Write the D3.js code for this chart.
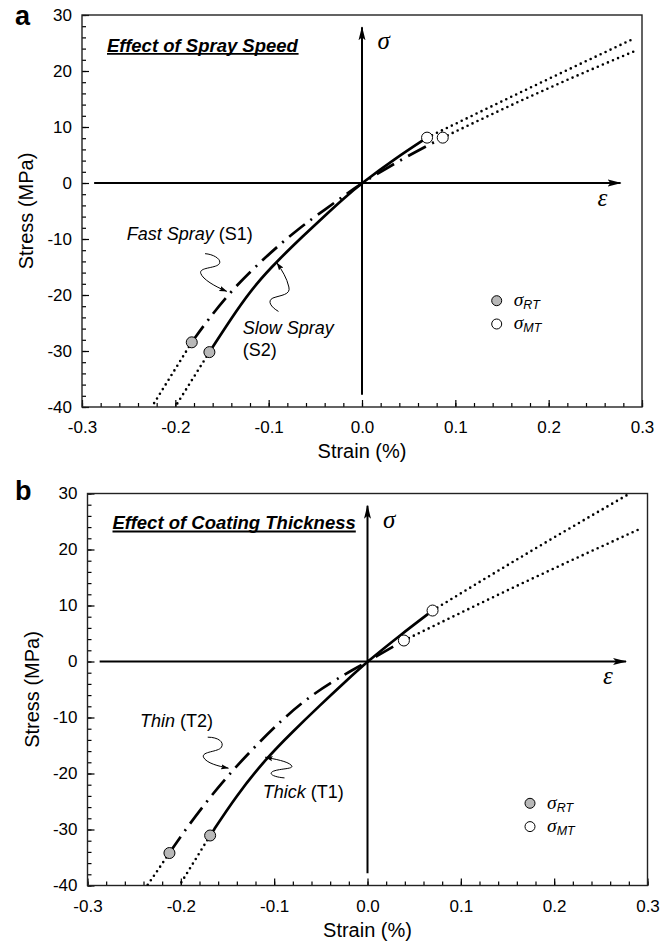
<!DOCTYPE html>
<html>
  <head>
    <meta charset="utf-8">
    <title>Stress-strain of coatings</title>
    <script src="https://d3js.org/d3.v7.min.js"></script>
    <style>
      body{
        margin: 0;
        background: #fff;
      }
      svg text{
        font-family: "Liberation Sans", Arial, Helvetica, sans-serif;
        fill: #000;
      }
      .greek{
        font-family: "Liberation Serif", "Times New Roman", serif;
        font-style: italic;
      }
    </style>
  </head>
  <body>
    <div id="container"></div>
    <script>

      // TICKS
      const strainTicks = [-0.3, -0.2, -0.1, 0, 0.1, 0.2, 0.3];
      const stressTicks = [-40, -30, -20, -10, 0, 10, 20, 30];

      // PANEL A - SLOW SPRAY (S2), SOLID
      const slowStrain = [-0.1635, -0.134, -0.1127, -0.0912, -0.0627, -0.0412, -0.0197, 0, 0.035, 0.0697];
      const slowStress = [-30.2, -22.6, -17.85, -14.0, -9.4, -6.05, -2.75, 0, 4.3, 8.1];
      const slowCompStrain = [-0.1635, -0.2003];
      const slowCompStress = [-30.2, -40];
      const slowTenStrain = [0.0697, 0.18, 0.2897];
      const slowTenStress = [8.1, 17.0, 25.66];

      // PANEL A - FAST SPRAY (S1), DASH-DOT
      const fastStrain = [-0.1824, -0.1663, -0.1378, -0.102, -0.0697, -0.0376, -0.0161, 0, 0.045, 0.0865];
      const fastStress = [-28.45, -24.7, -18.75, -13.0, -8.35, -4.48, -1.9, 0, 4.5, 8.1];
      const fastCompStrain = [-0.1824, -0.2253];
      const fastCompStress = [-28.45, -40];
      const fastTenStrain = [0.0865, 0.19, 0.2932];
      const fastTenStress = [8.1, 16.2, 23.63];

      // PANEL B - THICK (T1), SOLID
      const thickStrain = [-0.1686, -0.1407, -0.1086, -0.080, -0.0514, -0.0228, 0, 0.035, 0.0697];
      const thickStress = [-31.07, -24.0, -17.3, -12.5, -7.9, -3.45, 0, 4.7, 9.1];
      const thickCompStrain = [-0.1686, -0.2015];
      const thickCompStress = [-31.07, -40];
      const thickTenStrain = [0.0697, 0.175, 0.282];
      const thickTenStress = [9.1, 19.7, 30.1];

      // PANEL B - THIN (T2), DASH-DOT
      const thinStrain = [-0.2122, -0.1943, -0.1604, -0.1283, -0.0908, -0.0586, -0.0265, 0, 0.039];
      const thinStress = [-34.2, -29.8, -22.4, -16.5, -10.2, -5.8, -2.5, 0, 3.75];
      const thinCompStrain = [-0.2122, -0.236];
      const thinCompStress = [-34.2, -40];
      const thinTenStrain = [0.039, 0.165, 0.2935];
      const thinTenStress = [3.75, 13.9, 23.8];

      // SET DIMENSIONS
      const width = 665, height = 942;
      const plotW = 560, plotH = 392;
      const DASHDOT = "20,7,2,7";

      const svg = d3.select("#container")
        .append("svg")
        .attr("width", width)
        .attr("height", height);

      // MARKERS
      const defs = svg.append("defs");
      defs.append("marker")
        .attr("id", "axisArrow")
        .attr("markerUnits", "userSpaceOnUse")
        .attr("viewBox", "0 -4 14 8")
        .attr("refX", 13).attr("refY", 0)
        .attr("markerWidth", 14).attr("markerHeight", 8)
        .attr("orient", "auto")
        .append("path")
        .attr("d", "M0,-3.5L14,0L0,3.5L3,0Z")
        .attr("fill", "#000");
      defs.append("marker")
        .attr("id", "noteArrow")
        .attr("markerUnits", "userSpaceOnUse")
        .attr("viewBox", "0 -3 8 6")
        .attr("refX", 7.5).attr("refY", 0)
        .attr("markerWidth", 8).attr("markerHeight", 6)
        .attr("orient", "auto")
        .append("path")
        .attr("d", "M0,-2.6L8,0L0,2.6L1.5,0Z")
        .attr("fill", "#000");

      const panels = [
        {
          id: "a", title: "Effect of Spray Speed", left: 82, top: 15,
          letterDy: 10, titleDy: 36.7,
          curves: [
            { strain: slowStrain, stress: slowStress, dash: null },
            { strain: fastStrain, stress: fastStress, dash: DASHDOT }
          ],
          ext: [
            [slowCompStrain, slowCompStress], [slowTenStrain, slowTenStress],
            [fastCompStrain, fastCompStress], [fastTenStrain, fastTenStress]
          ],
          notes: [
            { lines: [["Fast Spray", " (S1)"]], dx: 44.7, dy: 225 },
            { lines: [["Slow Spray", ""], ["", "(S2)"]], dx: 160.7, dy: 319 }
          ],
          arrows: [
            { tip: [-0.1449, -19.35], d: "M-21.7,-37.7C-12,-37 -4,-31 -8,-27C-12,-23 -28,-24 -26,-18C-24,-12 -12,-5 0,0" },
            { tip: [-0.0912, -14.29], d: "M1.6,48.4C-6,44 -10,38 -4,35C4,32 14,32 12,24C10,15 5,7 0,0" }
          ],
          legend: [414.7, 285.7]
        },
        {
          id: "b", title: "Effect of Coating Thickness", left: 87.5, top: 493.5,
          letterDy: 6.5, titleDy: 35.8,
          curves: [
            { strain: thickStrain, stress: thickStress, dash: null },
            { strain: thinStrain, stress: thinStress, dash: DASHDOT }
          ],
          ext: [
            [thickCompStrain, thickCompStress], [thickTenStrain, thickTenStress],
            [thinCompStrain, thinCompStress], [thinTenStrain, thinTenStress]
          ],
          notes: [
            { lines: [["Thin", " (T2)"]], dx: 52.5, dy: 233.5 },
            { lines: [["Thick", " (T1)"]], dx: 175.2, dy: 304.5 }
          ],
          arrows: [
            { tip: [-0.149, -19.05], d: "M-20.7,-31C-10,-31 -4,-26 -7,-21C-10,-16 -27,-17 -25,-11C-22,-5 -10,-2 0,0" },
            { tip: [-0.1096, -17.09], d: "M19.3,20.7C10,20 2,17 8,14C16,11 30,12 26,8C22,4 10,2 0,0" }
          ],
          legend: [442.5, 309.8]
        }
      ];

      const minorStrain = d3.range(-15, 16).map(i => i * 0.02);
      const minorStress = d3.range(-40, 31, 2);

      panels.forEach(p => drawPanel(p));

      function drawPanel(p) {
        const g = svg.append("g");

        // SCALES
        const x = d3.scaleLinear().domain([-0.3, 0.3]).range([p.left, p.left + plotW]);
        const y = d3.scaleLinear().domain([-40, 30]).range([p.top + plotH, p.top]);

        defs.append("clipPath").attr("id", "clip-" + p.id)
          .append("rect")
          .attr("x", p.left).attr("y", p.top)
          .attr("width", plotW).attr("height", plotH);

        // MINOR TICKS (inward)
        g.append("g")
          .attr("transform", `translate(${p.left},0)`)
          .call(d3.axisLeft(y).tickValues(minorStress).tickSize(-4).tickFormat(""))
          .call(a => a.select(".domain").remove());
        g.append("g")
          .attr("transform", `translate(0,${p.top + plotH})`)
          .call(d3.axisBottom(x).tickValues(minorStrain).tickSize(-4).tickFormat(""))
          .call(a => a.select(".domain").remove());

        // MAJOR TICKS + LABELS
        const yAxis = g.append("g")
          .attr("transform", `translate(${p.left},0)`)
          .call(d3.axisLeft(y).tickValues(stressTicks).tickSize(-7).tickPadding(10).tickFormat(d => String(d)))
          .call(a => a.select(".domain").remove());
        const xAxis = g.append("g")
          .attr("transform", `translate(0,${p.top + plotH})`)
          .call(d3.axisBottom(x).tickValues(strainTicks).tickSize(-7).tickPadding(14).tickFormat(d => d.toFixed(1)))
          .call(a => a.select(".domain").remove());

        g.selectAll(".tick line").attr("stroke", "#000").attr("stroke-width", 1.2);
        [xAxis, yAxis].forEach(a => {
          a.attr("font-size", null).attr("font-family", null);
          a.selectAll("text").attr("font-size", 17);
        });

        // FRAME
        g.append("rect")
          .attr("x", p.left).attr("y", p.top)
          .attr("width", plotW).attr("height", plotH)
          .attr("fill", "none")
          .attr("stroke", "#222")
          .attr("stroke-width", 1.4);

        // AXIS TITLES
        g.append("text")
          .attr("x", p.left + plotW / 2)
          .attr("y", p.top + plotH + 51.2)
          .attr("text-anchor", "middle")
          .attr("font-size", 20)
          .text("Strain (%)");
        g.append("text")
          .attr("transform", `translate(${p.left - 56},${p.top + plotH / 2}) rotate(-90)`)
          .attr("text-anchor", "middle")
          .attr("dy", "0.35em")
          .attr("font-size", 20)
          .text("Stress (MPa)");

        // PANEL LETTER & TITLE
        g.append("text")
          .attr("x", 15).attr("y", p.top + p.letterDy)
          .attr("font-size", 27)
          .attr("font-weight", "bold")
          .text(p.id);
        const title = g.append("text")
          .attr("x", p.left + 25).attr("y", p.top + p.titleDy)
          .attr("font-size", 18.5)
          .attr("font-weight", "bold")
          .attr("font-style", "italic")
          .text(p.title);
        const tb = title.node().getBBox();
        g.append("line")
          .attr("x1", tb.x).attr("x2", tb.x + tb.width)
          .attr("y1", p.top + p.titleDy + 2.2).attr("y2", p.top + p.titleDy + 2.2)
          .attr("stroke", "#000").attr("stroke-width", 1.8);

        // INTERNAL SIGMA-EPSILON AXES
        g.append("line")
          .attr("x1", x(-0.287)).attr("x2", x(0.277))
          .attr("y1", y(0)).attr("y2", y(0))
          .attr("stroke", "#000").attr("stroke-width", 2)
          .attr("marker-end", "url(#axisArrow)");
        g.append("line")
          .attr("x1", x(0)).attr("x2", x(0))
          .attr("y1", y(-37.8)).attr("y2", y(27.8))
          .attr("stroke", "#000").attr("stroke-width", 2)
          .attr("marker-end", "url(#axisArrow)");
        g.append("text")
          .attr("class", "greek")
          .attr("x", x(0) + 15.5).attr("y", p.top + 34)
          .attr("font-size", 25)
          .text("σ");
        g.append("text")
          .attr("class", "greek")
          .attr("x", p.left + plotW - 44.5).attr("y", y(0) + 22.5)
          .attr("font-size", 25)
          .text("ε");

        const smooth = d3.line()
          .x(d => x(d[0]))
          .y(d => y(d[1]))
          .curve(d3.curveBasis);
        const line = d3.line()
          .x(d => x(d[0]))
          .y(d => y(d[1]))
          .curve(d3.curveMonotoneX);

        // DOTTED EXTRAPOLATIONS
        g.append("g")
          .attr("clip-path", `url(#clip-${p.id})`)
          .selectAll("path")
          .data(p.ext)
          .join("path")
          .attr("d", e => line(d3.zip(e[0], e[1])))
          .attr("fill", "none")
          .attr("stroke", "#000")
          .attr("stroke-width", 2.6)
          .attr("stroke-linecap", "round")
          .attr("stroke-dasharray", "0,5.5");

        // MEASURED CURVES
        g.selectAll(".curve")
          .data(p.curves)
          .join("path")
          .attr("class", "curve")
          .attr("d", c => smooth(d3.zip(c.strain, c.stress)))
          .attr("fill", "none")
          .attr("stroke", "#000")
          .attr("stroke-width", 2.7)
          .attr("stroke-dasharray", c => c.dash);

        // FAILURE POINTS: first = compressive (RT), last = tensile (MT)
        const pts = [];
        p.curves.forEach(c => {
          pts.push({ e: c.strain[0], s: c.stress[0], fill: "#b8b8b8" });
          pts.push({ e: c.strain[c.strain.length - 1], s: c.stress[c.stress.length - 1], fill: "#fff" });
        });
        g.selectAll(".pt")
          .data(pts)
          .join("circle")
          .attr("class", "pt")
          .attr("cx", d => x(d.e))
          .attr("cy", d => y(d.s))
          .attr("r", 5.5)
          .attr("fill", d => d.fill)
          .attr("stroke", "#000")
          .attr("stroke-width", 1);

        // ANNOTATIONS
        p.notes.forEach(n => {
          n.lines.forEach((ln, i) => {
            const t = g.append("text")
              .attr("x", p.left + n.dx)
              .attr("y", p.top + n.dy + i * 22)
              .attr("font-size", 18);
            if (ln[0]) t.append("tspan").attr("font-style", "italic").text(ln[0]);
            if (ln[1]) t.append("tspan").text(ln[1]);
          });
        });
        p.arrows.forEach(a => {
          g.append("path")
            .attr("transform", `translate(${x(a.tip[0])},${y(a.tip[1])})`)
            .attr("d", a.d)
            .attr("fill", "none")
            .attr("stroke", "#000")
            .attr("stroke-width", 1)
            .attr("marker-end", "url(#noteArrow)");
        });

        // LEGEND
        const legend = g.append("g")
          .attr("transform", `translate(${p.left + p.legend[0]},${p.top + p.legend[1]})`);
        [["RT", "#b8b8b8"], ["MT", "#fff"]].forEach((l, i) => {
          legend.append("circle")
            .attr("cx", 0).attr("cy", i * 23.3)
            .attr("r", 5)
            .attr("fill", l[1])
            .attr("stroke", "#000")
            .attr("stroke-width", 1);
          const t = legend.append("text")
            .attr("x", 17).attr("y", i * 23.3 + 5.5);
          t.append("tspan")
            .attr("class", "greek")
            .attr("font-size", 19.5)
            .text("σ");
          t.append("tspan")
            .attr("font-size", 12.5)
            .attr("font-style", "italic")
            .attr("dy", 3)
            .text(l[0]);
        });
      }

    </script>
  </body>
</html>
